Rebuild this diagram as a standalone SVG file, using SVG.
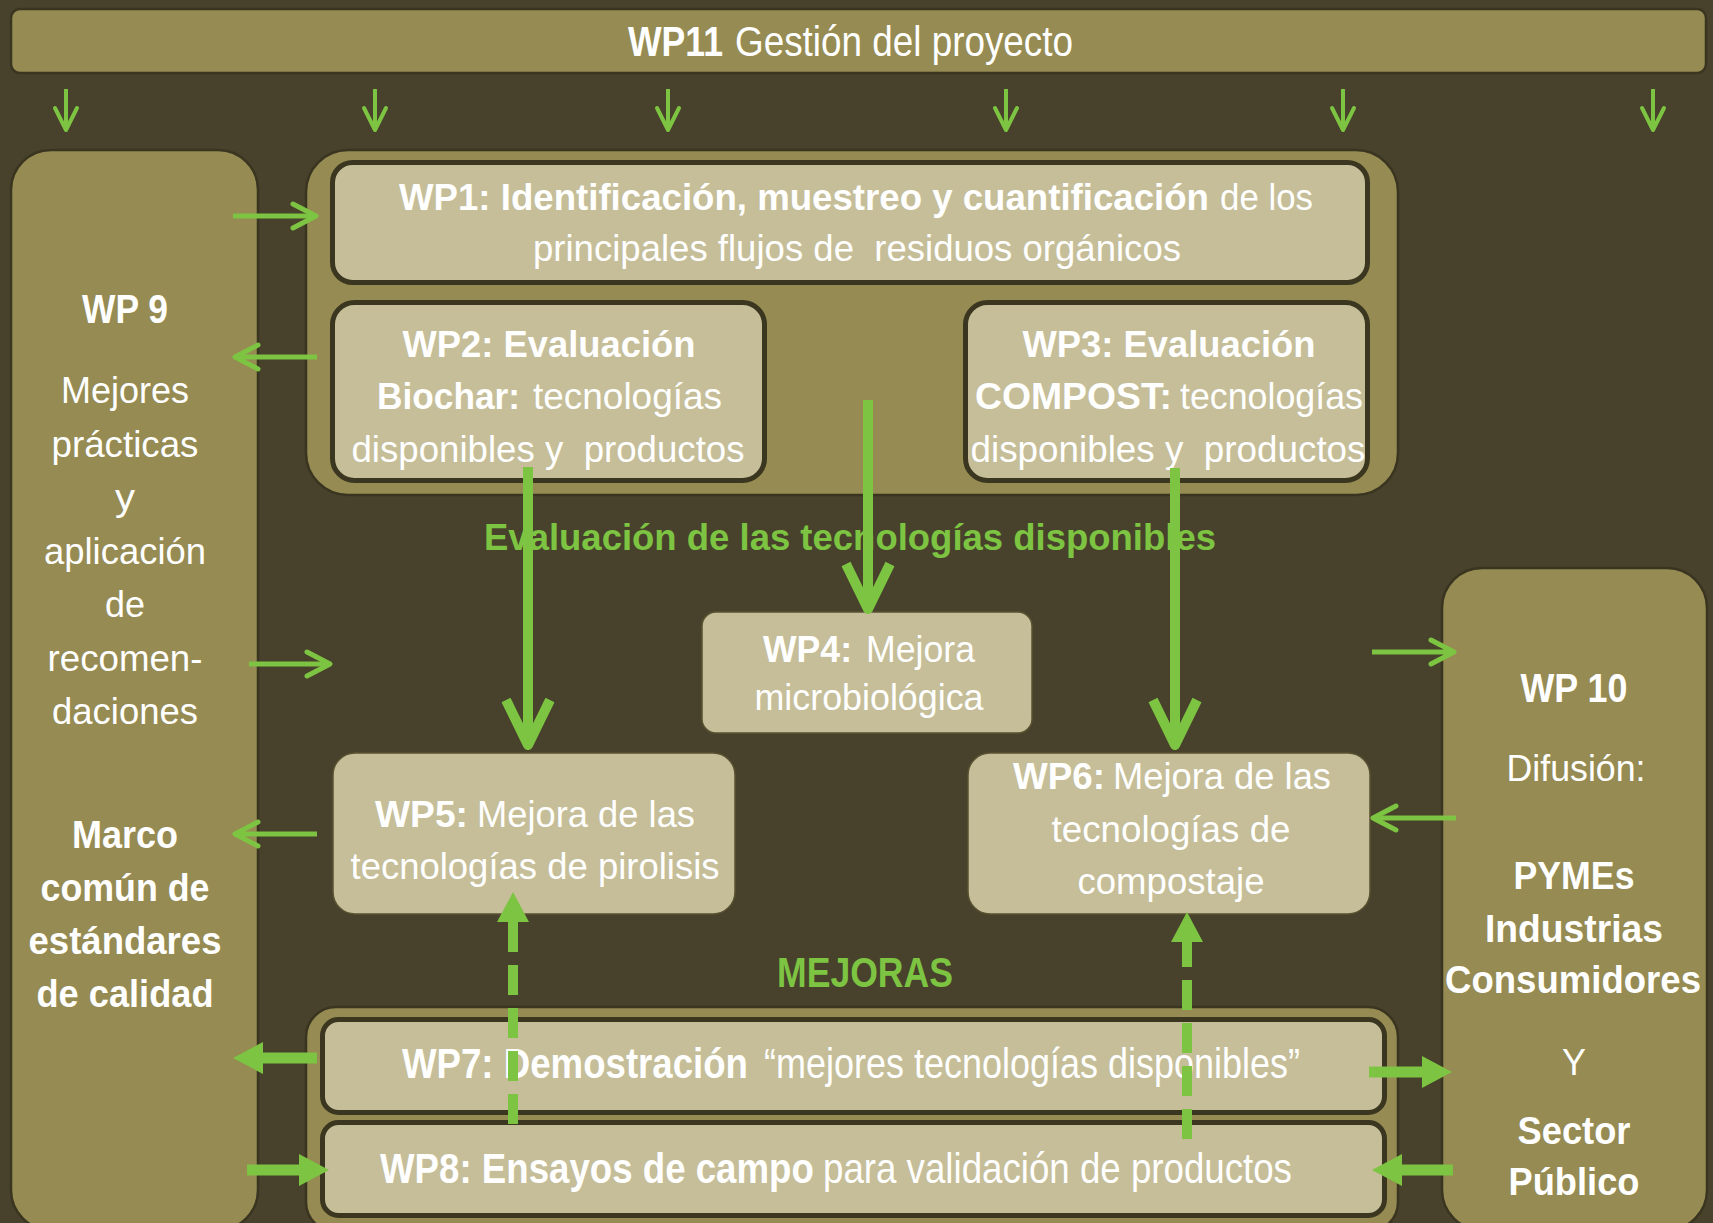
<svg xmlns="http://www.w3.org/2000/svg" width="1713" height="1223" viewBox="0 0 1713 1223">
<style>
.t{font-family:"Liberation Sans Narrow","Liberation Sans",Arial,sans-serif;fill:#ffffff;white-space:pre}
.b{font-weight:bold}
.g{fill:#7dc442}
.olive{fill:#968b52;stroke:#3a3520;stroke-width:2.5}
.tan{fill:#c5be98;stroke:#3b3620;stroke-width:5}
.tan2{fill:#c5be98;stroke:#5a5333;stroke-width:1.5}
.ln{fill:none;stroke:#7dc442}
.s4{stroke-width:4}
.s5{stroke-width:5}
.s10{stroke-width:10}
.s11{stroke-width:11}
.dash{stroke-width:10;stroke-dasharray:30 13;stroke-dashoffset:-3}
</style>
<defs>
<marker id="mSmall" markerUnits="userSpaceOnUse" viewBox="-26 -14 30 28" refX="0" refY="0" markerWidth="30" markerHeight="28" orient="auto" overflow="visible">
<path d="M-22,-11 L0,0 L-22,11" fill="none" stroke="#7dc442" stroke-width="4" stroke-linecap="round" stroke-linejoin="round"/>
</marker>
<marker id="mThin" markerUnits="userSpaceOnUse" viewBox="-27 -15 31 30" refX="0" refY="0" markerWidth="31" markerHeight="30" orient="auto" overflow="visible">
<path d="M-23,-12 L0,0 L-23,12" fill="none" stroke="#7dc442" stroke-width="5" stroke-linecap="round" stroke-linejoin="round"/>
</marker>
<marker id="mBig" markerUnits="userSpaceOnUse" viewBox="-50 -28 56 56" refX="0" refY="0" markerWidth="56" markerHeight="56" orient="auto" overflow="visible">
<path d="M-45,-22 L0,0 L-45,22" fill="none" stroke="#7dc442" stroke-width="10" stroke-linecap="butt" stroke-linejoin="round"/>
</marker>
<marker id="mBlock" markerUnits="userSpaceOnUse" viewBox="0 -17 31 34" refX="0" refY="0" markerWidth="31" markerHeight="34" orient="auto" overflow="visible">
<path d="M0,-16 L30,0 L0,16 Z" fill="#7dc442"/>
</marker>
</defs>
<rect x="0" y="0" width="1713" height="1223" fill="#48412b"/>

<g id="wp11">
<rect x="11" y="9" width="1695" height="64" rx="9" class="olive"/>
<text class="t b" x="628" y="56" font-size="43" textLength="95" lengthAdjust="spacingAndGlyphs">WP11</text>
<text class="t" x="735" y="56" font-size="43" textLength="338" lengthAdjust="spacingAndGlyphs">Gestión del proyecto</text>
</g>

<g id="wp9">
<rect x="11" y="150" width="247" height="1080" rx="40" class="olive"/>
<text class="t b" x="125" y="323" font-size="40" text-anchor="middle" textLength="86" lengthAdjust="spacingAndGlyphs">WP 9</text>
<text class="t" x="125" y="403" font-size="37" text-anchor="middle" textLength="128" lengthAdjust="spacingAndGlyphs">Mejores</text>
<text class="t" x="125" y="457" font-size="37" text-anchor="middle" textLength="147" lengthAdjust="spacingAndGlyphs">prácticas</text>
<text class="t" x="125" y="510" font-size="37" text-anchor="middle" textLength="20" lengthAdjust="spacingAndGlyphs">y</text>
<text class="t" x="125" y="564" font-size="37" text-anchor="middle" textLength="162" lengthAdjust="spacingAndGlyphs">aplicación</text>
<text class="t" x="125" y="617" font-size="37" text-anchor="middle" textLength="40" lengthAdjust="spacingAndGlyphs">de</text>
<text class="t" x="125" y="671" font-size="37" text-anchor="middle" textLength="155" lengthAdjust="spacingAndGlyphs">recomen-</text>
<text class="t" x="125" y="724" font-size="37" text-anchor="middle" textLength="146" lengthAdjust="spacingAndGlyphs">daciones</text>
<text class="t b" x="125" y="848" font-size="38" text-anchor="middle" textLength="106" lengthAdjust="spacingAndGlyphs">Marco</text>
<text class="t b" x="125" y="901" font-size="38" text-anchor="middle" textLength="169" lengthAdjust="spacingAndGlyphs">común de</text>
<text class="t b" x="125" y="954" font-size="38" text-anchor="middle" textLength="193" lengthAdjust="spacingAndGlyphs">estándares</text>
<text class="t b" x="125" y="1007" font-size="38" text-anchor="middle" textLength="177" lengthAdjust="spacingAndGlyphs">de calidad</text>
</g>

<g id="wp10">
<rect x="1442" y="568" width="265" height="662" rx="40" class="olive"/>
<text class="t b" x="1574" y="702" font-size="40" text-anchor="middle" textLength="107" lengthAdjust="spacingAndGlyphs">WP 10</text>
<text class="t" x="1576" y="781" font-size="37" text-anchor="middle" textLength="139" lengthAdjust="spacingAndGlyphs">Difusión:</text>
<text class="t b" x="1574" y="889" font-size="38" text-anchor="middle" textLength="121" lengthAdjust="spacingAndGlyphs">PYMEs</text>
<text class="t b" x="1574" y="942" font-size="38" text-anchor="middle" textLength="178" lengthAdjust="spacingAndGlyphs">Industrias</text>
<text class="t b" x="1573" y="993" font-size="38" text-anchor="middle" textLength="256" lengthAdjust="spacingAndGlyphs">Consumidores</text>
<text class="t" x="1574" y="1075" font-size="37" text-anchor="middle" textLength="24" lengthAdjust="spacingAndGlyphs">Y</text>
<text class="t b" x="1574" y="1144" font-size="38" text-anchor="middle" textLength="113" lengthAdjust="spacingAndGlyphs">Sector</text>
<text class="t b" x="1574" y="1195" font-size="38" text-anchor="middle" textLength="131" lengthAdjust="spacingAndGlyphs">Público</text>
</g>

<g id="grp-evaluacion">
<rect x="306" y="150" width="1092" height="345" rx="42" class="olive"/>
</g>

<g id="wp1">
<rect x="332.5" y="162.5" width="1035" height="120" rx="20" class="tan"/>
<text class="t b" x="399" y="210" font-size="37" textLength="810" lengthAdjust="spacingAndGlyphs">WP1: Identificación, muestreo y cuantificación</text>
<text class="t" x="1220" y="210" font-size="37" textLength="93" lengthAdjust="spacingAndGlyphs">de los</text>
<text class="t" x="857" y="261" font-size="37" text-anchor="middle" textLength="648" lengthAdjust="spacingAndGlyphs">principales flujos de  residuos orgánicos</text>
</g>

<g id="wp2">
<rect x="332.5" y="302.5" width="432" height="178" rx="22" class="tan"/>
<text class="t b" x="549" y="357" font-size="36" text-anchor="middle" textLength="293" lengthAdjust="spacingAndGlyphs">WP2: Evaluación</text>
<text class="t b" x="377" y="409" font-size="36" textLength="143" lengthAdjust="spacingAndGlyphs">Biochar:</text>
<text class="t" x="533" y="409" font-size="36" textLength="189" lengthAdjust="spacingAndGlyphs">tecnologías</text>
<text class="t" x="548" y="462" font-size="36" text-anchor="middle" textLength="393" lengthAdjust="spacingAndGlyphs">disponibles y  productos</text>
</g>

<g id="wp3">
<rect x="965.5" y="302.5" width="402" height="178" rx="22" class="tan"/>
<text class="t b" x="1169" y="357" font-size="36" text-anchor="middle" textLength="293" lengthAdjust="spacingAndGlyphs">WP3: Evaluación</text>
<text class="t b" x="975" y="409" font-size="36" textLength="197" lengthAdjust="spacingAndGlyphs">COMPOST:</text>
<text class="t" x="1180" y="409" font-size="36" textLength="183" lengthAdjust="spacingAndGlyphs">tecnologías</text>
<text class="t" x="1168" y="462" font-size="36" text-anchor="middle" textLength="395" lengthAdjust="spacingAndGlyphs">disponibles y  productos</text>
</g>

<g id="label-evaluacion">
<text class="t b g" x="850" y="550" font-size="36" text-anchor="middle" textLength="732" lengthAdjust="spacingAndGlyphs">Evaluación de las tecnologías disponibles</text>
</g>

<g id="wp4">
<rect x="702" y="612" width="330" height="121" rx="14" class="tan2"/>
<text class="t b" x="763" y="662" font-size="37" textLength="89" lengthAdjust="spacingAndGlyphs">WP4:</text>
<text class="t" x="866" y="662" font-size="37" textLength="109" lengthAdjust="spacingAndGlyphs">Mejora</text>
<text class="t" x="869" y="710" font-size="37" text-anchor="middle" textLength="229" lengthAdjust="spacingAndGlyphs">microbiológica</text>
</g>

<g id="wp5">
<rect x="333" y="753" width="402" height="161" rx="22" class="tan2"/>
<text class="t b" x="375" y="827" font-size="37" textLength="93" lengthAdjust="spacingAndGlyphs">WP5:</text>
<text class="t" x="477" y="827" font-size="37" textLength="218" lengthAdjust="spacingAndGlyphs">Mejora de las</text>
<text class="t" x="535" y="879" font-size="37" text-anchor="middle" textLength="369" lengthAdjust="spacingAndGlyphs">tecnologías de pirolisis</text>
</g>

<g id="wp6">
<rect x="968" y="753" width="402" height="161" rx="22" class="tan2"/>
<text class="t b" x="1013" y="789" font-size="37" textLength="92" lengthAdjust="spacingAndGlyphs">WP6:</text>
<text class="t" x="1113" y="789" font-size="37" textLength="218" lengthAdjust="spacingAndGlyphs">Mejora de las</text>
<text class="t" x="1171" y="842" font-size="37" text-anchor="middle" textLength="239" lengthAdjust="spacingAndGlyphs">tecnologías de</text>
<text class="t" x="1171" y="894" font-size="37" text-anchor="middle" textLength="187" lengthAdjust="spacingAndGlyphs">compostaje</text>
</g>

<g id="label-mejoras">
<text class="t b g" x="865" y="987" font-size="42" text-anchor="middle" textLength="176" lengthAdjust="spacingAndGlyphs">MEJORAS</text>
</g>

<g id="grp-mejoras">
<rect x="306" y="1007" width="1092" height="225" rx="30" class="olive"/>
</g>

<g id="wp7">
<rect x="322.5" y="1019.5" width="1062" height="93" rx="16" class="tan"/>
<text class="t b" x="402" y="1078" font-size="42" textLength="346" lengthAdjust="spacingAndGlyphs">WP7: Demostración</text>
<text class="t" x="764" y="1078" font-size="42" textLength="536" lengthAdjust="spacingAndGlyphs">“mejores tecnologías disponibles”</text>
</g>

<g id="wp8">
<rect x="322.5" y="1122.5" width="1062" height="93" rx="16" class="tan"/>
<text class="t b" x="0" y="0" font-size="42" transform="translate(380,1183) scale(0.873,1)">WP8: Ensayos de campo</text>
<text class="t" x="0" y="0" font-size="42" transform="translate(823,1183) scale(0.8735,1)">para validación de productos</text>
</g>

<g id="connectors">
<path class="ln s4" d="M66,89 V130" marker-end="url(#mSmall)"/>
<path class="ln s4" d="M375,89 V130" marker-end="url(#mSmall)"/>
<path class="ln s4" d="M668,89 V130" marker-end="url(#mSmall)"/>
<path class="ln s4" d="M1006,89 V130" marker-end="url(#mSmall)"/>
<path class="ln s4" d="M1343,89 V130" marker-end="url(#mSmall)"/>
<path class="ln s4" d="M1653,89 V130" marker-end="url(#mSmall)"/>

<path class="ln s5" d="M233,216 H316" marker-end="url(#mThin)"/>
<path class="ln s5" d="M317,357 H235" marker-end="url(#mThin)"/>
<path class="ln s5" d="M249,664 H330" marker-end="url(#mThin)"/>
<path class="ln s5" d="M317,834 H235" marker-end="url(#mThin)"/>
<path class="ln s5" d="M1372,652 H1454" marker-end="url(#mThin)"/>
<path class="ln s5" d="M1456,818 H1373" marker-end="url(#mThin)"/>

<path class="ln s11" d="M317,1058 H263" marker-end="url(#mBlock)"/>
<path class="ln s11" d="M247,1170 H299" marker-end="url(#mBlock)"/>
<path class="ln s11" d="M1369,1072 H1422" marker-end="url(#mBlock)"/>
<path class="ln s11" d="M1453,1170 H1402" marker-end="url(#mBlock)"/>

<path class="ln s10" d="M528,467 V745" marker-end="url(#mBig)"/>
<path class="ln s10" d="M868,400 V609" marker-end="url(#mBig)"/>
<path class="ln s10" d="M1175,468 V745" marker-end="url(#mBig)"/>

<path class="ln dash" d="M513,1127 V922" marker-end="url(#mBlock)"/>
<path class="ln dash" d="M1187,1142 V942" marker-end="url(#mBlock)"/>
</g>
</svg>
